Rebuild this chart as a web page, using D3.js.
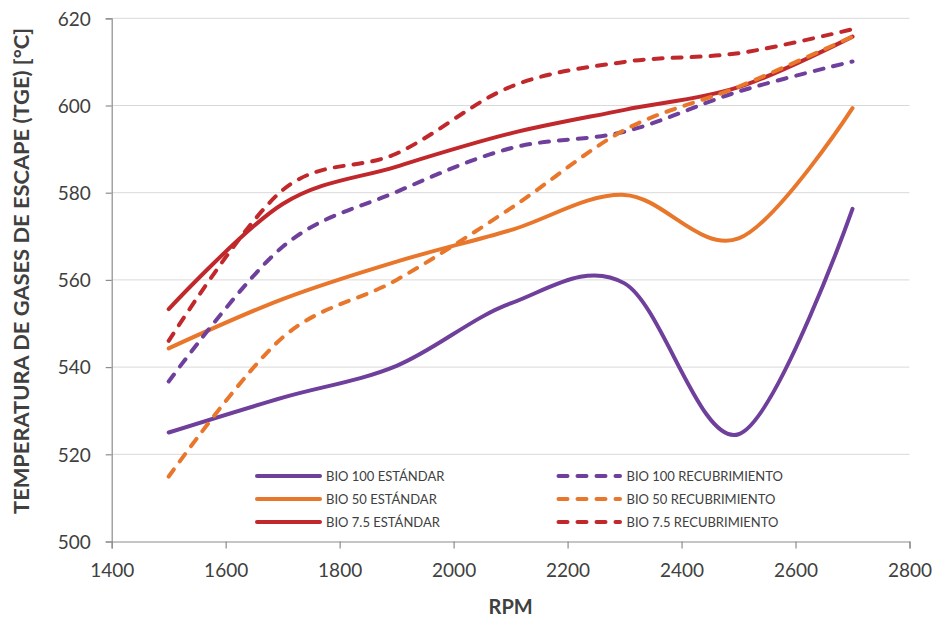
<!DOCTYPE html>
<html>
<head>
<meta charset="utf-8">
<script src="https://cdn.jsdelivr.net/npm/d3@7"></script>
<style>
  html, body { margin: 0; padding: 0; background: #fff; }
  svg { display: block; }
  text { font-family: Lato, "Open Sans", sans-serif; fill: #404040; }
</style>
</head>
<body>
<svg id="chart" width="937" height="620"></svg>
<script>
// Engine speed (RPM) at which exhaust gas temperature was measured
const rpm = [1500, 1700, 1900, 2100, 2300, 2500, 2700];

// Exhaust gas temperature [°C] per fuel blend and piston type
const bio100Std = [525.0, 533.0, 540.3, 554.6, 559.2, 524.6, 576.3];
const bio50Std  = [544.3, 555.6, 564.2, 571.4, 579.5, 569.5, 599.4];
const bio75Std  = [553.3, 577.4, 586.0, 593.6, 599.0, 604.2, 615.8];
const bio100Rec = [536.7, 567.6, 580.2, 590.2, 594.0, 603.2, 610.1];
const bio50Rec  = [514.9, 546.8, 560.0, 576.4, 594.4, 604.3, 615.8];
const bio75Rec  = [546.0, 580.6, 589.0, 604.3, 610.0, 612.0, 617.5];

const seriesNames = [
  "BIO 100 ESTÁNDAR", "BIO 50 ESTÁNDAR", "BIO 7.5 ESTÁNDAR",
  "BIO 100 RECUBRIMIENTO", "BIO 50 RECUBRIMIENTO", "BIO 7.5 RECUBRIMIENTO"
];
const xTicks = [1400, 1600, 1800, 2000, 2200, 2400, 2600, 2800];
const yTicks = [500, 520, 540, 560, 580, 600, 620];

const purple = "#6f3f9c", orange = "#e8772c", red = "#c1282b";

const series = [
  { name: seriesNames[0], values: bio100Std, color: purple, dashed: false },
  { name: seriesNames[1], values: bio50Std,  color: orange, dashed: false },
  { name: seriesNames[2], values: bio75Std,  color: red,    dashed: false },
  { name: seriesNames[3], values: bio100Rec, color: purple, dashed: true },
  { name: seriesNames[4], values: bio50Rec,  color: orange, dashed: true },
  { name: seriesNames[5], values: bio75Rec,  color: red,    dashed: true }
];

const svg = d3.select("#chart");
const plotLeft = 111.7, plotRight = 909.5, plotTop = 18.3, plotBottom = 541.5;

const x = d3.scaleLinear().domain([1400, 2800]).range([plotLeft, plotRight]);
const y = d3.scaleLinear().domain([500, 620]).range([plotBottom, plotTop]);

// horizontal gridlines
svg.append("g")
  .selectAll("line")
  .data(yTicks.filter(v => v !== 500))
  .join("line")
  .attr("x1", plotLeft).attr("x2", plotRight)
  .attr("y1", d => y(d)).attr("y2", d => y(d))
  .attr("stroke", "#d9d9d9").attr("stroke-width", 1);

// axes
const yAxis = svg.append("g")
  .attr("transform", `translate(${plotLeft},0)`)
  .call(d3.axisLeft(y).tickValues(yTicks).tickSize(6).tickPadding(15).tickFormat(d3.format("d")));
const xAxis = svg.append("g")
  .attr("transform", `translate(0,${plotBottom})`)
  .call(d3.axisBottom(x).tickValues(xTicks).tickSize(7).tickPadding(22).tickFormat(d3.format("d")));

[yAxis, xAxis].forEach(a => {
  a.select(".domain").attr("stroke", "#8c8c8c").attr("stroke-width", 1.2);
  a.selectAll(".tick line").attr("stroke", "#8c8c8c").attr("stroke-width", 1.2);
  a.selectAll(".tick text")
    .style("font-family", "Lato, 'Open Sans', sans-serif")
    .style("font-size", "19px")
    .style("fill", "#404040");
});
yAxis.selectAll(".tick text").attr("dy", "0.36em");
xAxis.selectAll(".tick text").attr("dy", "0.35em");

// series lines
const line = d3.line()
  .x((d, i) => x(rpm[i]))
  .y(d => y(d))
  .curve(d3.curveCardinal.tension(0));

svg.append("g")
  .selectAll("path")
  .data(series)
  .join("path")
  .attr("d", d => line(d.values))
  .attr("fill", "none")
  .attr("stroke", d => d.color)
  .attr("stroke-width", 4)
  .attr("stroke-linecap", "round")
  .attr("stroke-linejoin", "round")
  .attr("stroke-dasharray", d => d.dashed ? "9,10" : null);

// legend
const legend = svg.append("g");
const rowY = [476, 499, 522];
series.forEach((s, i) => {
  const col = i < 3 ? 0 : 1;
  const row = i % 3;
  const x0 = col === 0 ? 257 : 558.5;
  const x1 = col === 0 ? 320 : 620;
  legend.append("line")
    .attr("x1", x0).attr("x2", x1)
    .attr("y1", rowY[row]).attr("y2", rowY[row])
    .attr("stroke", s.color).attr("stroke-width", 4)
    .attr("stroke-linecap", "round")
    .attr("stroke-dasharray", s.dashed ? "9,10" : null);
  legend.append("text")
    .attr("x", col === 0 ? 326 : 626.5)
    .attr("y", rowY[row])
    .attr("dy", "0.36em")
    .style("font-size", "13px")
    .text(s.name);
});

// axis titles
svg.append("text")
  .attr("x", (plotLeft + plotRight) / 2)
  .attr("y", 607)
  .attr("text-anchor", "middle")
  .attr("dy", "0.35em")
  .style("font-size", "20px")
  .style("font-weight", "bold")
  .text("RPM");

svg.append("text")
  .attr("transform", "translate(22,271) rotate(-90)")
  .attr("text-anchor", "middle")
  .attr("dy", "0.35em")
  .attr("textLength", 486)
  .attr("lengthAdjust", "spacingAndGlyphs")
  .style("font-size", "20px")
  .style("font-weight", "bold")
  .text("TEMPERATURA DE GASES DE ESCAPE (TGE) [°C]");
</script>
</body>
</html>
